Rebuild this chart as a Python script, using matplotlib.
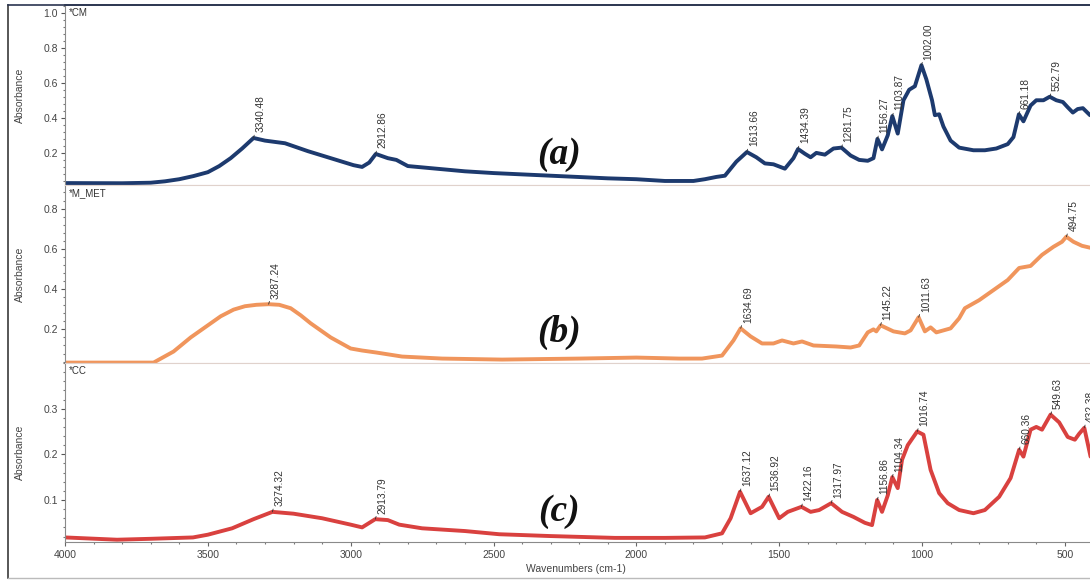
import matplotlib.pyplot as plt
from matplotlib.ticker import MultipleLocator
from matplotlib.lines import Line2D

plt.rcParams['font.family'] = ['Liberation Sans', 'DejaVu Sans']

# (a) CM spectrum
wn_a = [4000, 3800, 3700, 3650, 3600, 3550, 3500, 3460, 3420, 3380, 3340, 3300, 3230, 3150,
        3050, 2990, 2960, 2935, 2912, 2870, 2840, 2800, 2700, 2600, 2500, 2300, 2100, 2000,
        1900, 1800, 1760, 1720, 1690, 1650, 1613, 1580, 1550, 1520, 1480, 1450, 1434, 1410,
        1390, 1370, 1340, 1310, 1282, 1250, 1220, 1190, 1170, 1156, 1140, 1120, 1104, 1085,
        1065, 1045, 1025, 1002, 985, 965, 955, 940, 925, 900, 870, 820, 780, 740, 700, 680,
        661, 645, 620, 600, 575, 553, 530, 507, 490, 472, 455, 437, 412]
abs_a = [0.028, 0.027, 0.03, 0.038, 0.05, 0.068, 0.09, 0.125, 0.17, 0.225, 0.285, 0.27, 0.255,
         0.21, 0.16, 0.13, 0.12, 0.145, 0.194, 0.17, 0.16, 0.125, 0.11, 0.095, 0.085, 0.07,
         0.055, 0.05, 0.04, 0.04, 0.05, 0.063, 0.07, 0.15, 0.205, 0.175, 0.14, 0.135, 0.11,
         0.17, 0.222, 0.195, 0.175, 0.20, 0.19, 0.225, 0.23, 0.185, 0.16, 0.155, 0.17, 0.28,
         0.22, 0.30, 0.41, 0.31, 0.50, 0.56, 0.58, 0.70, 0.62, 0.50, 0.415, 0.42, 0.35, 0.27,
         0.23, 0.215, 0.215, 0.225, 0.25, 0.29, 0.42, 0.38, 0.47, 0.50, 0.50, 0.52, 0.50,
         0.49, 0.46, 0.43, 0.45, 0.455, 0.415]
peaks_a = [3340.48, 2912.86, 1613.66, 1434.39, 1281.75, 1156.27, 1103.87, 1002.00, 661.18, 552.79]

# (b) M_MET spectrum
wn_b = [4000, 3800, 3690, 3620, 3560, 3500, 3455, 3410, 3370, 3330, 3287, 3250, 3210, 3175,
        3140, 3070, 3000, 2960, 2910, 2820, 2680, 2470, 2200, 2000, 1850, 1770, 1700, 1660,
        1635, 1600, 1560, 1520, 1490, 1450, 1420, 1380, 1300, 1250, 1220, 1190, 1170, 1160,
        1145, 1100, 1060, 1040, 1012, 990, 970, 950, 900, 870, 850, 800, 750, 700, 660, 620,
        580, 540, 510, 495, 470, 440, 410]
abs_b = [0.035, 0.035, 0.035, 0.09, 0.16, 0.22, 0.265, 0.298, 0.315, 0.322, 0.325, 0.322,
         0.305, 0.27, 0.23, 0.16, 0.105, 0.095, 0.085, 0.065, 0.055, 0.05, 0.055, 0.06, 0.055,
         0.055, 0.07, 0.145, 0.205, 0.165, 0.13, 0.13, 0.145, 0.13, 0.14, 0.12, 0.115, 0.11,
         0.12, 0.185, 0.20, 0.19, 0.22, 0.19, 0.18, 0.195, 0.26, 0.19, 0.21, 0.185, 0.205,
         0.255, 0.305, 0.345, 0.395, 0.445, 0.505, 0.515, 0.57, 0.61, 0.635, 0.66, 0.635,
         0.615, 0.605]
peaks_b = [3287.24, 1634.69, 1145.22, 1011.63, 494.75]

# (c) CC spectrum
wn_c = [4000, 3818, 3700, 3552, 3500, 3415, 3340, 3274, 3200, 3100, 3000, 2960, 2914,
        2870, 2830, 2750, 2600, 2480, 2300, 2075, 1900, 1760, 1700, 1670, 1637, 1600,
        1560, 1537, 1500, 1470, 1422, 1390, 1360, 1318, 1280, 1240, 1200, 1175, 1157,
        1140, 1120, 1104, 1085, 1070, 1050, 1017, 995, 970, 940, 910, 870, 820, 780,
        730, 690, 660, 645, 620, 600, 580, 550, 520, 490, 465, 450, 432, 410]
abs_c = [0.018, 0.013, 0.015, 0.018, 0.024, 0.038, 0.058, 0.074, 0.07, 0.06, 0.046, 0.04, 0.058,
         0.056, 0.046, 0.038, 0.032, 0.025, 0.021, 0.017, 0.017, 0.018, 0.027, 0.06, 0.118, 0.071,
         0.085, 0.107, 0.06, 0.074, 0.085, 0.074, 0.078, 0.093, 0.074, 0.063, 0.05, 0.045, 0.10,
         0.074, 0.11, 0.15, 0.126, 0.188, 0.22, 0.25, 0.243, 0.166, 0.115, 0.093, 0.078, 0.071, 0.078,
         0.107, 0.148, 0.21, 0.195, 0.254, 0.26, 0.254, 0.287, 0.27, 0.238, 0.232, 0.245, 0.258, 0.195]
peaks_c = [3274.32, 2913.79, 1637.12, 1536.92, 1422.16, 1317.97, 1156.86, 1104.34, 1016.74,
           660.36, 549.63, 432.38]

panels = [
    ('*CM', '(a)', wn_a, abs_a, peaks_a, '#1d3a6e', (0.017, 1.043), [0.2, 0.4, 0.6, 0.8, 1.0], 0.04),
    ('*M_MET', '(b)', wn_b, abs_b, peaks_b, '#f0955c', (0.033, 0.917), [0.2, 0.4, 0.6, 0.8], 0.04),
    ('*CC', '(c)', wn_c, abs_c, peaks_c, '#d9413f', (0.008, 0.40), [0.1, 0.2, 0.3], 0.02),
]

W, H = 1090, 581
fig = plt.figure(figsize=(10.9, 5.81), dpi=100)
bounds = [(5, 185), (185, 363), (363, 542)]
left = 65

axes = []
for (name, tag, wn, ab, peaks, color, ylim, yt, ymin), (top, bot) in zip(panels, bounds):
    ax = fig.add_axes([left / W, 1 - bot / H, (W - left) / W, (bot - top) / H])
    ax.plot(wn, ab, color=color, lw=2.8, solid_joinstyle='round', solid_capstyle='round')
    ax.set_xlim(4000, 412)
    ax.set_ylim(*ylim)
    ax.set_yticks(yt)
    ax.yaxis.set_minor_locator(MultipleLocator(ymin))
    ax.tick_params(axis='y', which='major', length=3, width=0.8, colors='#555555',
                   labelsize=7.5, pad=2, labelcolor='#444444')
    ax.tick_params(axis='y', which='minor', length=1.5, width=0.8, colors='#777777')
    ax.set_ylabel('Absorbance', fontsize=7.5, color='#444444')
    ax.yaxis.set_label_coords(-0.039, 0.5)
    ax.spines['right'].set_visible(False)
    ax.spines['left'].set_color('#8a8a8a')
    ax.spines['left'].set_linestyle((0, (1, 1)))
    ax.spines['top'].set_color('#e0d2cc')
    ax.spines['bottom'].set_color('#e0d2cc')
    ax.text(0.004, 0.985, name, transform=ax.transAxes, fontsize=7, color='#333333',
            va='top', ha='left')
    ax.text(2270, ylim[0] + (ylim[1] - ylim[0]) * 0.17, tag, fontsize=27, fontweight='bold',
            fontstyle='italic', family='Liberation Serif', ha='center', va='center', color='#111111')
    for p in peaks:
        # absorbance at the peak, taken from the closest listed point
        i = min(range(len(wn)), key=lambda k: abs(wn[k] - p))
        ax.annotate(f'{p:.2f}', xy=(p, ab[i]), xytext=(1.5, 4), textcoords='offset points',
                    rotation=90, ha='left', va='bottom', fontsize=7.3, color='#333333',
                    arrowprops=dict(arrowstyle='-', lw=0.6, color='#333333',
                                    shrinkA=0, shrinkB=0), annotation_clip=False)
    axes.append(ax)

for ax in axes[:2]:
    ax.tick_params(axis='x', which='both', bottom=False, labelbottom=False)
axes[0].spines['top'].set_color('#2b3550')
axes[0].spines['top'].set_linewidth(1.2)

axc = axes[2]
axc.set_xticks([4000, 3500, 3000, 2500, 2000, 1500, 1000, 500])
axc.xaxis.set_minor_locator(MultipleLocator(100))
axc.spines['bottom'].set_color('#8a8a8a')
axc.tick_params(axis='x', which='major', length=3, width=0.8, colors='#666666',
                labelsize=7.5, labelcolor='#444444', pad=3)
axc.tick_params(axis='x', which='minor', length=1.5, width=0.8, colors='#777777')
fig.text(576 / W, 1 - 569 / H, 'Wavenumbers (cm-1)', fontsize=7.5, color='#444444',
         ha='center', va='center')

# scanned page frame
fig.add_artist(Line2D([8 / W, 8 / W], [1 - 5 / H, 1 - 578 / H], color='#3a3a3a', lw=1.2))
fig.add_artist(Line2D([8 / W, 1], [1 - 578 / H, 1 - 578 / H], color='#bbbbbb', lw=1.0))
fig.add_artist(Line2D([8 / W, 1], [1 - 4.5 / H, 1 - 4.5 / H], color='#2b3550', lw=1.2))

fig.savefig('out.png', dpi=100)
